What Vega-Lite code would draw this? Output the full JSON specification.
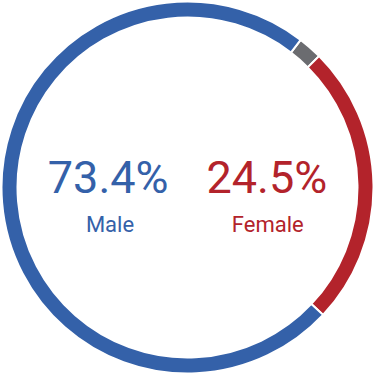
{
  "$schema": "https://vega.github.io/schema/vega-lite/v6.json",
  "width": 375,
  "height": 375,
  "autosize": {"type": "fit", "contains": "padding"},
  "padding": 0,
  "background": "white",
  "config": {"view": {"stroke": null}},
  "layer": [
    {
      "data": {"values": [
        {"group": "Other", "value": 2.1, "k": 1},
        {"group": "Female", "value": 24.5, "k": 2},
        {"group": "Male", "value": 73.4, "k": 3}
      ]},
      "mark": {"type": "arc", "outerRadius": 186, "innerRadius": 170, "stroke": "white", "strokeWidth": 2},
      "encoding": {
        "theta": {"field": "value", "type": "quantitative", "stack": true, "scale": {"range": [0.654, 6.937]}},
        "order": {"field": "k", "type": "quantitative"},
        "color": {"field": "group", "type": "nominal", "legend": null,
          "scale": {"domain": ["Male", "Female", "Other"], "range": ["#3461A9", "#B3232B", "#6B6C70"]}}
      }
    },
    {
      "data": {"values": [
        {"group": "Male", "pct": "73.4%", "px": -0.43, "py": -0.03},
        {"group": "Female", "pct": "24.5%", "px": 0.43, "py": -0.03}
      ]},
      "mark": {"type": "text", "font": "Roboto, sans-serif", "fontSize": 45, "baseline": "alphabetic", "align": "center"},
      "encoding": {
        "x": {"field": "px", "type": "quantitative", "scale": {"domain": [-1, 1]}, "axis": null},
        "y": {"field": "py", "type": "quantitative", "scale": {"domain": [-1, 1]}, "axis": null},
        "text": {"field": "pct"},
        "color": {"field": "group", "type": "nominal", "legend": null,
          "scale": {"domain": ["Male", "Female", "Other"], "range": ["#3461A9", "#B3232B", "#6B6C70"]}}
      }
    },
    {
      "data": {"values": [
        {"group": "Male", "px": -0.42, "py": -0.243},
        {"group": "Female", "px": 0.435, "py": -0.243}
      ]},
      "mark": {"type": "text", "font": "Roboto, sans-serif", "fontSize": 22, "baseline": "alphabetic", "align": "center"},
      "encoding": {
        "x": {"field": "px", "type": "quantitative", "scale": {"domain": [-1, 1]}, "axis": null},
        "y": {"field": "py", "type": "quantitative", "scale": {"domain": [-1, 1]}, "axis": null},
        "text": {"field": "group"},
        "color": {"field": "group", "type": "nominal", "legend": null,
          "scale": {"domain": ["Male", "Female", "Other"], "range": ["#3461A9", "#B3232B", "#6B6C70"]}}
      }
    }
  ]
}
